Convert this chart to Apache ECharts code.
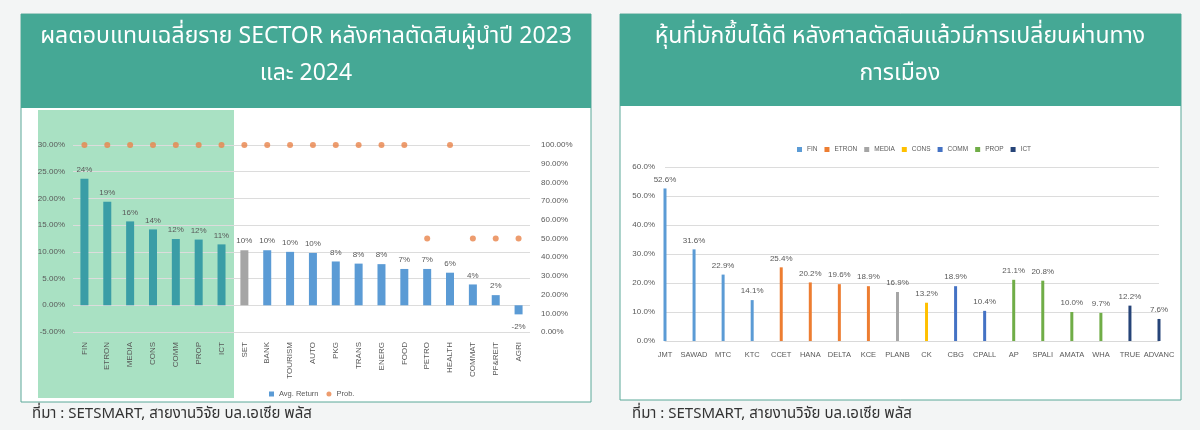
<!DOCTYPE html>
<html>
<head>
<meta charset="utf-8">
<script src="https://cdn.jsdelivr.net/npm/echarts@6/dist/echarts.min.js"></script>
<style>
html,body{margin:0;padding:0;background:#f3f5f5;}
#c{width:1200px;height:430px;}
</style>
</head>
<body>
<div id="c"></div>
<script>
// ---------- Left chart data ----------
const sectorCats = ['FIN','ETRON','MEDIA','CONS','COMM','PROP','ICT','SET','BANK','TOURISM','AUTO','PKG','TRANS','ENERG','FOOD','PETRO','HEALTH','COMMAT','PF&REIT','AGRI'];
const avgReturn = [23.7, 19.4, 15.7, 14.2, 12.4, 12.3, 11.4, 10.3, 10.3, 10.0, 9.8, 8.2, 7.8, 7.7, 6.8, 6.8, 6.1, 3.9, 1.9, -1.7];
const prob = [100,100,100,100,100,100,100,100,100,100,100,100,100,100,100,50,100,50,50,50];
const leftTicks = [-5, 0, 5, 10, 15, 20, 25, 30];

// ---------- Right chart data ----------
const stocks = ['JMT','SAWAD','MTC','KTC','CCET','HANA','DELTA','KCE','PLANB','CK','CBG','CPALL','AP','SPALI','AMATA','WHA','TRUE','ADVANC'];
const stockSector = ['FIN','FIN','FIN','FIN','ETRON','ETRON','ETRON','ETRON','MEDIA','CONS','COMM','COMM','PROP','PROP','PROP','PROP','ICT','ICT'];
const stockReturn = [52.6, 31.6, 22.9, 14.1, 25.4, 20.2, 19.6, 18.9, 16.9, 13.2, 18.9, 10.4, 21.1, 20.8, 10.0, 9.7, 12.2, 7.6];
const sectors = ['FIN','ETRON','MEDIA','CONS','COMM','PROP','ICT'];
const sectorColors = ['#5b9bd5','#ed7d31','#a5a5a5','#ffc000','#4472c4','#70ad47','#264478'];

// ---------- Texts ----------
const titleLeft = ['ผลตอบแทนเฉลี่ยราย SECTOR หลังศาลตัดสินผู้นำปี 2023', 'และ 2024'];
const titleRight = ['หุ้นที่มักขึ้นได้ดี หลังศาลตัดสินแล้วมีการเปลี่ยนผ่านทาง', 'การเมือง'];
const sourceText = 'ที่มา : SETSMART, สายงานวิจัย บล.เอเซีย พลัส';

const thaiFont = '"Noto Sans Thai","Noto Sans","DejaVu Sans",sans-serif';
const axisFont = '"Liberation Sans Narrow","Liberation Sans",Arial,sans-serif';
const teal = '#45a895';
const lab = '#595959';

const chart = echarts.init(document.getElementById('c'), null, {renderer:'canvas'});

function barColor(i){
  if (i < 7) return '#3a9da6';
  if (sectorCats[i] === 'SET') return '#a5a5a5';
  return '#5b9bd5';
}

const rightSeries = sectors.map((s, k) => ({
  name: s,
  type: 'bar',
  xAxisIndex: 1,
  yAxisIndex: 2,
  stack: 'r',
  barWidth: 3,
  itemStyle: {color: sectorColors[k]},
  label: {show: true, position: 'top', distance: 5, fontSize: 8, color: lab, fontFamily: axisFont,
          formatter: p => p.value == null ? '' : p.value.toFixed(1) + '%'},
  data: stockReturn.map((v, i) => stockSector[i] === s ? v : null)
}));

const option = {
  backgroundColor: '#f3f5f5',
  animation: false,
  graphic: [
    {type:'rect', z:-20, shape:{x:21,y:14,width:570,height:388}, style:{fill:'#ffffff', stroke:'#5aa898', lineWidth:1}},
    {type:'rect', z:-19, shape:{x:21,y:14,width:570,height:94}, style:{fill:teal}},
    {type:'rect', z:-20, shape:{x:620,y:14,width:561,height:386}, style:{fill:'#ffffff', stroke:'#5aa898', lineWidth:1}},
    {type:'rect', z:-19, shape:{x:620,y:14,width:561,height:92}, style:{fill:teal}},
    {type:'rect', z:-18, shape:{x:38,y:110,width:196,height:288}, style:{fill:'#a9e1c3'}},
    {type:'text', z:10, x:306, y:38, style:{text:titleLeft[0], fill:'#ffffff', font:'23px '+thaiFont, align:'center', verticalAlign:'middle'}},
    {type:'text', z:10, x:306, y:75, style:{text:titleLeft[1], fill:'#ffffff', font:'23px '+thaiFont, align:'center', verticalAlign:'middle'}},
    {type:'text', z:10, x:900, y:38, style:{text:titleRight[0], fill:'#ffffff', font:'23px '+thaiFont, align:'center', verticalAlign:'middle'}},
    {type:'text', z:10, x:900, y:75, style:{text:titleRight[1], fill:'#ffffff', font:'23px '+thaiFont, align:'center', verticalAlign:'middle'}},
    {type:'text', z:10, x:32, y:415, style:{text:sourceText, fill:'#333333', font:'15px '+thaiFont, align:'left', verticalAlign:'middle'}},
    {type:'text', z:10, x:632, y:415, style:{text:sourceText, fill:'#333333', font:'15px '+thaiFont, align:'left', verticalAlign:'middle'}}
  ],
  legend: [
    {
      data: [{name:'Avg. Return', icon:'rect'}, {name:'Prob.', icon:'circle'}],
      left: 264, top: 385, itemWidth: 5, itemHeight: 5, itemGap: 8,
      textStyle: {fontSize: 7.5, color: lab, fontFamily: axisFont}
    },
    {
      data: sectors.map(s => ({name: s, icon: 'rect'})),
      left: 792, top: 141, itemWidth: 5, itemHeight: 5, itemGap: 7,
      textStyle: {fontSize: 6.5, color: lab, fontFamily: axisFont}
    }
  ],
  grid: [
    {left: 73, right: 670, top: 145, bottom: 98, containLabel: false},
    {left: 665, right: 41, top: 167, bottom: 89, containLabel: false}
  ],
  xAxis: [
    {
      type: 'category', gridIndex: 0, data: sectorCats,
      axisLine: {onZero: false, show: false}, axisTick: {show: false},
      axisLabel: {rotate: 90, fontSize: 8, color: lab, margin: 10, fontFamily: axisFont, interval: 0}
    },
    {
      type: 'category', gridIndex: 1, data: stocks, boundaryGap: false,
      axisLine: {show: true, lineStyle: {color: '#d9d9d9'}}, axisTick: {show: false},
      axisLabel: {fontSize: 7.5, color: lab, margin: 10, fontFamily: axisFont, interval: 0}
    }
  ],
  yAxis: [
    {
      type: 'value', gridIndex: 0, min: -5, max: 30, interval: 5,
      axisLabel: {fontSize: 8, color: lab, margin: 8, fontFamily: axisFont, formatter: v => v.toFixed(2) + '%'},
      splitLine: {lineStyle: {color: '#dcdcdc'}}, axisLine: {show: false}, axisTick: {show: false}
    },
    {
      type: 'value', gridIndex: 0, position: 'right', min: 0, max: 100, interval: 10,
      axisLabel: {fontSize: 8, color: lab, margin: 11, fontFamily: axisFont, formatter: v => v.toFixed(2) + '%'},
      splitLine: {show: false}, axisLine: {show: false}, axisTick: {show: false}
    },
    {
      type: 'value', gridIndex: 1, min: 0, max: 60, interval: 10,
      axisLabel: {fontSize: 8, color: lab, margin: 10, fontFamily: axisFont, formatter: v => v.toFixed(1) + '%'},
      splitLine: {lineStyle: {color: '#dcdcdc'}}, axisLine: {show: false}, axisTick: {show: false}
    }
  ],
  series: [
    {
      name: 'Avg. Return', type: 'bar', xAxisIndex: 0, yAxisIndex: 0, barWidth: 8,
      itemStyle: {color: '#5b9bd5'},
      label: {show: true, position: 'top', distance: 5, fontSize: 8, color: lab, fontFamily: axisFont,
              formatter: p => Math.round(p.value) + '%'},
      data: avgReturn.map((v, i) => ({
        value: v,
        itemStyle: {color: barColor(i)},
        label: v < 0 ? {position: 'bottom', distance: 8} : undefined
      }))
    },
    {
      name: 'Prob.', type: 'scatter', xAxisIndex: 0, yAxisIndex: 1, symbolSize: 6,
      itemStyle: {color: '#e8834a'},
      data: prob
    }
  ].concat(rightSeries)
};
chart.setOption(option);
</script>
</body>
</html>
